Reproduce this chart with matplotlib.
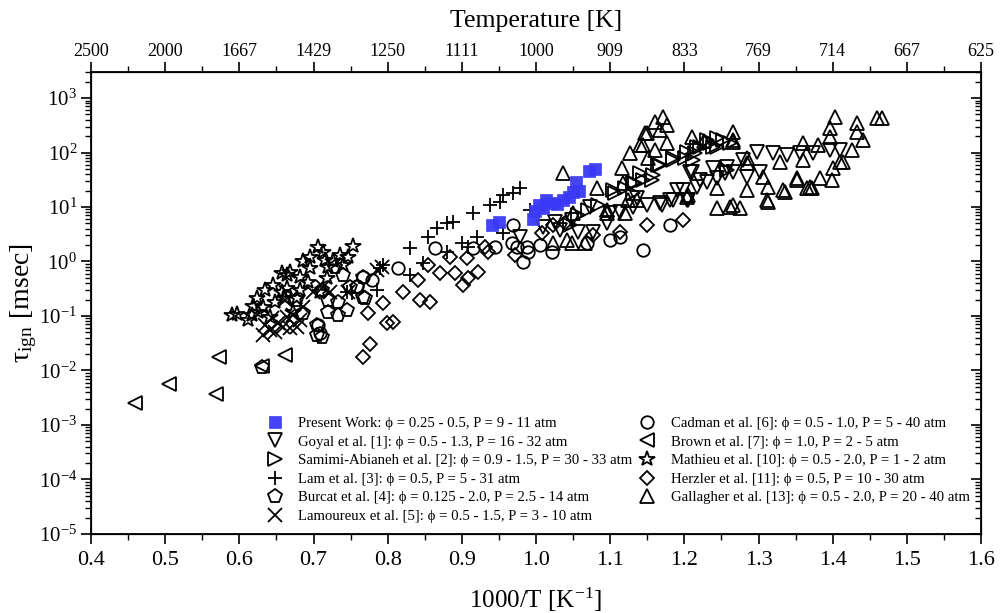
import matplotlib
matplotlib.use("Agg")
import matplotlib.pyplot as plt
from matplotlib.ticker import LogLocator, NullFormatter, MultipleLocator

plt.rcParams['font.family'] = ['Liberation Serif', 'DejaVu Serif']
plt.rcParams['mathtext.fontset'] = 'stix'

# ---- ignition delay data: 1000/T [1/K] and tau_ign [ms] ----
present_x = [0.940, 0.950, 0.996, 0.998, 1.004, 1.010, 1.014, 1.020, 1.028, 1.036,
             1.044, 1.050, 1.058, 1.054, 1.072, 1.080]
present_y = [4.6, 5.3, 6.0, 8.5, 11.0, 9.5, 13.5, 12.0, 11.5, 13.5,
             15.5, 18.5, 20.0, 29.0, 46.0, 50.0]

goyal_x = [0.978, 1.009, 1.026, 1.032, 1.057, 1.077, 1.096, 1.113, 1.131, 1.150,
           1.167, 1.185, 1.198, 1.217, 1.221, 1.231, 1.239, 1.244, 1.258, 1.255,
           1.266, 1.279, 1.285, 1.298, 1.302, 1.320, 1.338, 1.356, 1.373, 1.396,
           1.410, 1.204, 1.190, 1.208, 1.100, 1.073, 1.049, 1.136, 1.170, 1.181,
           1.205, 1.210]
goyal_y = [2.8, 4.3, 5.3, 3.8, 3.5, 3.5, 5.1, 8.1, 10.0, 10.9,
           11.8, 13.4, 20.5, 23.0, 31.0, 29.0, 52.0, 34.0, 54.0, 42.0,
           44.0, 73.0, 35.0, 102.0, 44.0, 98.0, 90.0, 98.0, 98.0, 111.0,
           111.0, 13.4, 20.5, 44.0, 7.8, 10.0, 5.8, 14.6, 10.9, 13.4,
           13.4, 44.0]

samimi_x = [1.070, 1.084, 1.104, 1.106, 1.120, 1.131, 1.131, 1.133, 1.140, 1.144,
            1.156, 1.158, 1.164, 1.167, 1.185, 1.185, 1.201, 1.204, 1.212, 1.214,
            1.217, 1.221, 1.231, 1.235, 1.239, 1.244, 1.244, 1.252, 1.262, 1.258,
            1.046, 1.057]
samimi_y = [8.8, 10.9, 20.5, 18.0, 22.0, 27.5, 18.0, 27.5, 42.0, 31.0,
            31.0, 38.6, 59.0, 59.0, 79.0, 73.0, 79.0, 102.0, 73.0, 98.0,
            126.0, 126.0, 170.0, 149.0, 126.0, 185.0, 126.0, 170.0, 149.0, 48.0,
            4.7, 7.1]

lam_x = [0.978, 0.969, 0.955, 0.951, 0.938, 0.915, 0.888, 0.880, 0.867, 0.854,
         0.830, 0.900, 0.920, 0.955, 0.848, 0.830, 0.790, 0.794, 0.786, 0.752,
         0.992, 0.880, 0.908, 0.745]
lam_y = [22.3, 18.0, 16.6, 12.4, 10.9, 7.8, 5.3, 5.1, 4.1, 2.8,
         1.8, 2.2, 2.8, 3.3, 0.94, 0.56, 0.76, 0.86, 0.30, 0.26,
         8.8, 1.5, 1.85, 0.28]

burcat_x = [0.740, 0.767, 0.759, 0.767, 0.720, 0.733, 0.745, 0.720, 0.733, 0.705,
            0.705, 0.711, 0.686, 0.729, 0.769, 0.749, 0.631, 0.676, 0.711]
burcat_y = [0.56, 0.52, 0.34, 0.22, 0.20, 0.18, 0.13, 0.12, 0.104, 0.068,
            0.045, 0.041, 0.114, 0.79, 0.21, 0.34, 0.0116, 0.20, 0.30]

lamoureux_x = [0.632, 0.641, 0.648, 0.659, 0.668, 0.678, 0.644, 0.664, 0.652, 0.686,
               0.699, 0.713, 0.722, 0.747, 0.786, 0.792, 0.635, 0.672, 0.662, 0.682]
lamoureux_y = [0.045, 0.055, 0.050, 0.063, 0.060, 0.063, 0.092, 0.096, 0.075, 0.146,
               0.28, 0.34, 0.28, 0.28, 0.70, 0.79, 0.068, 0.105, 0.20, 0.085]

cadman_x = [0.969, 0.945, 0.968, 0.974, 0.988, 0.989, 0.982, 1.022, 1.069, 1.100,
            1.113, 1.144, 1.181, 0.915, 0.864, 0.814, 0.779, 0.759, 0.706, 0.709,
            0.767, 1.005]
cadman_y = [4.7, 1.85, 2.2, 1.85, 1.85, 1.5, 0.98, 1.5, 2.2, 2.5,
            2.8, 1.6, 4.7, 1.8, 1.8, 0.76, 0.46, 0.35, 0.068, 0.049,
            0.53, 2.0]

brown_x = [0.459, 0.505, 0.569, 0.573, 0.631, 0.662]
brown_y = [0.0025, 0.0056, 0.0037, 0.018, 0.012, 0.019]

mathieu_x = [0.590, 0.597, 0.612, 0.617, 0.624, 0.618, 0.632, 0.625, 0.645, 0.658,
             0.664, 0.668, 0.682, 0.686, 0.695, 0.706, 0.713, 0.716, 0.720, 0.736,
             0.747, 0.753, 0.695, 0.693, 0.678, 0.648, 0.641, 0.662, 0.658, 0.672,
             0.718, 0.709, 0.726, 0.740, 0.664, 0.635, 0.682]
mathieu_y = [0.104, 0.108, 0.085, 0.104, 0.21, 0.15, 0.146, 0.118, 0.37, 0.62,
             0.56, 0.64, 0.52, 1.02, 1.2, 1.85, 1.5, 1.08, 0.79, 1.3,
             1.2, 1.9, 0.76, 0.42, 0.21, 0.18, 0.095, 0.21, 0.27, 0.12,
             0.50, 0.28, 1.0, 0.86, 0.32, 0.30, 0.30]

herzler_x = [0.773, 0.794, 0.799, 0.807, 0.776, 0.767, 0.821, 0.844, 0.857, 0.841,
             0.854, 0.871, 0.891, 0.907, 0.931, 0.922, 0.908, 0.902, 0.884, 0.935,
             0.972, 1.008, 1.023, 1.039, 1.077, 1.113, 1.150, 1.198]
herzler_y = [0.114, 0.173, 0.074, 0.076, 0.031, 0.018, 0.28, 0.20, 0.18, 0.46,
             0.86, 0.62, 0.62, 1.16, 1.85, 0.64, 0.50, 0.37, 1.2, 1.5,
             1.3, 3.3, 4.7, 5.1, 3.1, 3.5, 4.7, 5.8]

gallagher_x = [1.036, 1.082, 1.049, 1.042, 1.023, 1.066, 1.050, 1.096, 1.124, 1.120,
               1.136, 1.096, 1.116, 1.117, 1.127, 1.140, 1.147, 1.144, 1.150, 1.160,
               1.171, 1.177, 1.167, 1.160, 1.151, 1.177, 1.210, 1.266, 1.266, 1.204,
               1.205, 1.244, 1.262, 1.275, 1.266, 1.285, 1.313, 1.311, 1.313, 1.333,
               1.336, 1.352, 1.352, 1.365, 1.369, 1.372, 1.383, 1.399, 1.400, 1.410,
               1.414, 1.360, 1.360, 1.396, 1.396, 1.403, 1.433, 1.433, 1.441, 1.426,
               1.460, 1.466, 1.329, 1.284, 1.284, 1.306, 1.244, 1.266, 1.227, 1.380]
gallagher_y = [42.0, 22.0, 2.2, 2.5, 2.2, 2.2, 7.8, 7.8, 13.4, 7.8,
               13.4, 8.8, 52.0, 27.5, 98.0, 137.0, 228.0, 137.0, 228.0, 363.0,
               448.0, 320.0, 259.0, 111.0, 79.0, 149.0, 192.0, 170.0, 156.0, 15.2,
               16.6, 9.6, 10.0, 9.6, 10.9, 20.5, 23.0, 13.4, 12.4, 20.5,
               18.8, 34.0, 31.0, 22.0, 23.0, 22.0, 34.0, 31.0, 52.0, 67.0,
               67.0, 149.0, 73.0, 192.0, 282.0, 448.0, 348.0, 238.0, 170.0, 111.0,
               430.0, 430.0, 67.0, 64.0, 79.0, 35.0, 22.0, 238.0, 160.0, 140.0]

labels = [
    "Present Work: \u03d5 = 0.25 - 0.5, P = 9 - 11 atm",
    "Goyal et al. [1]: \u03d5 = 0.5 - 1.3, P = 16 - 32 atm",
    "Samimi-Abianeh et al. [2]: \u03d5 = 0.9 - 1.5, P = 30 - 33 atm",
    "Lam et al. [3]: \u03d5 = 0.5, P = 5 - 31 atm",
    "Burcat et al. [4]: \u03d5 = 0.125 - 2.0, P = 2.5 - 14 atm",
    "Lamoureux et al. [5]: \u03d5 = 0.5 - 1.5, P = 3 - 10 atm",
    "Cadman et al. [6]: \u03d5 = 0.5 - 1.0, P = 5 - 40 atm",
    "Brown et al. [7]: \u03d5 = 1.0, P = 2 - 5 atm",
    "Mathieu et al. [10]: \u03d5 = 0.5 - 2.0, P = 1 - 2 atm",
    "Herzler et al. [11]: \u03d5 = 0.5, P = 10 - 30 atm",
    "Gallagher et al. [13]: \u03d5 = 0.5 - 2.0, P = 20 - 40 atm",
]

x_ticks = [0.4, 0.5, 0.6, 0.7, 0.8, 0.9, 1.0, 1.1, 1.2, 1.3, 1.4, 1.5, 1.6]
x_ticklabels = ["0.4", "0.5", "0.6", "0.7", "0.8", "0.9", "1.0", "1.1", "1.2",
                "1.3", "1.4", "1.5", "1.6"]
temp_ticklabels = ["2500", "2000", "1667", "1429", "1250", "1111", "1000", "909",
                   "833", "769", "714", "667", "625"]

fig = plt.figure(figsize=(10, 6.13), dpi=100)
ax = fig.add_axes([0.091, 0.129, 0.890, 0.7535])

open_style = dict(linestyle='none', mfc='none', mec='black', mew=1.3)
series = [
    (gallagher_x, gallagher_y, '^', 10.0, 10),
    (herzler_x, herzler_y, 'D', 7.5, 9),
    (mathieu_x, mathieu_y, '*', 11.5, 8),
    (brown_x, brown_y, '<', 10.0, 7),
    (cadman_x, cadman_y, 'o', 9.0, 6),
    (lamoureux_x, lamoureux_y, 'x', 9.5, 5),
    (burcat_x, burcat_y, 'p', 10.0, 4),
    (lam_x, lam_y, '+', 10.5, 3),
    (samimi_x, samimi_y, '>', 10.0, 2),
    (goyal_x, goyal_y, 'v', 10.0, 1),
]
handles = {}
for xs, ys, mk, ms, idx in series:
    h, = ax.plot(xs, ys, marker=mk, markersize=ms, **open_style)
    handles[idx] = h
h0, = ax.plot(present_x, present_y, linestyle='none', marker='s', markersize=8,
              mfc='#3a3af6', mec='#3a3af6', mew=0.5, alpha=0.95)
handles[0] = h0

ax.set_yscale('log')
ax.set_xlim(0.4, 1.6)
ax.set_ylim(1e-5, 3e3)
ax.set_xticks(x_ticks)
ax.set_xticklabels(x_ticklabels)
ax.xaxis.set_minor_locator(MultipleLocator(0.05))
ax.yaxis.set_major_locator(LogLocator(base=10, numticks=20))
ax.yaxis.set_minor_locator(LogLocator(base=10, subs=range(2, 10), numticks=20))
ax.yaxis.set_minor_formatter(NullFormatter())
ax.tick_params(axis='x', which='both', direction='out', top=False, labelsize=16, pad=5)
ax.tick_params(axis='y', which='both', direction='out', right=False, labelsize=15, pad=3)
ax.tick_params(which='major', length=7, width=1.2)
ax.tick_params(which='minor', length=4, width=1.0)
for sp in ax.spines.values():
    sp.set_linewidth(1.3)

ax.set_xlabel(r'1000/T [K$^{\mathregular{-1}}$]', fontsize=18, labelpad=11)
ax.set_ylabel('\u03c4$_{\\mathregular{ign}}$ [msec]', fontsize=20)
ax.yaxis.set_label_coords(-0.058, 0.5)

# top axis: temperature
ax_top = ax.twiny()
ax_top.set_xlim(ax.get_xlim())
ax_top.set_xticks(x_ticks)
ax_top.set_xticklabels(temp_ticklabels)
ax_top.xaxis.set_minor_locator(MultipleLocator(0.05))
ax_top.tick_params(axis='x', which='both', direction='out', labelsize=13, pad=2)
ax_top.tick_params(which='major', length=7, width=1.2)
ax_top.tick_params(which='minor', length=4, width=1.0)
ax_top.set_xlabel('Temperature [K]', fontsize=18.5, labelpad=11)

# right axis: inward ticks only
ax_r = ax.twinx()
ax_r.set_yscale('log')
ax_r.set_ylim(ax.get_ylim())
ax_r.yaxis.set_major_locator(LogLocator(base=10, numticks=20))
ax_r.yaxis.set_minor_locator(LogLocator(base=10, subs=range(2, 10), numticks=20))
ax_r.tick_params(axis='y', which='both', direction='in', labelright=False)
ax_r.tick_params(which='major', length=7, width=1.2)
ax_r.tick_params(which='minor', length=4, width=1.0)

leg_kw = dict(frameon=False, fontsize=10.6, handlelength=1.0, handletextpad=1.1,
              borderpad=0.0, labelspacing=0.36, borderaxespad=0.0, loc='upper left')
leg1 = ax.legend([handles[i] for i in range(6)], labels[:6],
                 bbox_to_anchor=(0.198, 0.254), **leg_kw)
ax.add_artist(leg1)
leg2 = ax.legend([handles[i] for i in range(6, 11)], labels[6:],
                 bbox_to_anchor=(0.617, 0.254), **leg_kw)

fig.savefig('out.png', dpi=100)
